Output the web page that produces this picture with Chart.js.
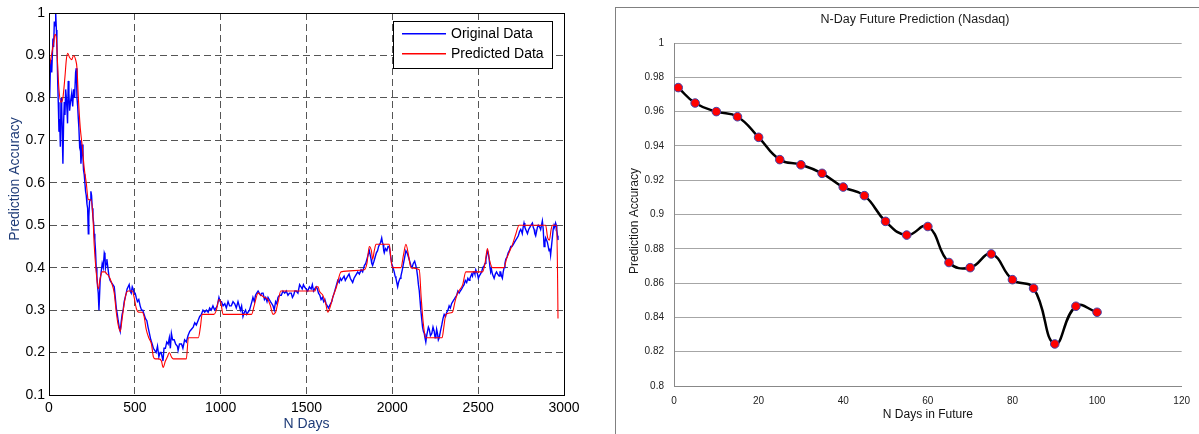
<!DOCTYPE html>
<html lang="en">
<head>
<meta charset="UTF-8">
<title>Prediction Accuracy</title>
<script src="https://cdn.jsdelivr.net/npm/chart.js"></script>
<style>
    body {
        margin: 0;
        background: #fff;
        width: 1199px;
        height: 434px;
        overflow: hidden;
        position: relative;
    }
    #leftChart { position: absolute; left: 0; top: 0; }
    #frame {
        position: absolute;
        left: 615px;
        top: 7px;
        width: 640px;
        height: 480px;
        border: 1px solid #808080;
    }
    #rightChart { position: absolute; left: 600px; top: 0; }
</style>
</head>
<body>
<canvas id="leftChart" width="600" height="434"></canvas>
<div id="frame"></div>
<canvas id="rightChart" width="599" height="434"></canvas>

<script>
// ---- left panel: original vs predicted accuracy over N days ----
const origDays = [
    0, 4, 8, 12, 16, 23, 27, 31, 35, 39,
    43, 46, 50, 54, 58, 62, 66, 70, 74, 78,
    81, 85, 89, 93, 97, 101, 105, 108, 112, 116,
    120, 125, 132, 138, 143, 149, 155, 159, 163, 167,
    171, 174, 178, 182, 186, 190, 194, 198, 201, 205,
    209, 213, 217, 221, 225, 229, 232, 236, 240, 244,
    248, 252, 256, 260, 263, 267, 271, 275, 279, 283,
    287, 291, 294, 298, 304, 310, 316, 322, 326, 329,
    333, 337, 343, 349, 356, 364, 372, 380, 386, 392,
    398, 403, 409, 415, 420, 426, 432, 438, 444, 450,
    455, 461, 467, 473, 479, 485, 490, 496, 502, 508,
    515, 523, 531, 539, 546, 554, 562, 570, 577, 585,
    593, 601, 608, 616, 624, 632, 640, 647, 653, 659,
    664, 670, 678, 686, 694, 701, 707, 713, 720, 729,
    738, 748, 752, 760, 772, 780, 790, 800, 810, 820,
    830, 840, 849, 858, 868, 878, 888, 897, 907, 917,
    927, 936, 945, 955, 965, 973, 980, 990, 997, 1005,
    1014, 1024, 1033, 1043, 1052, 1062, 1072, 1082, 1091, 1101,
    1108, 1115, 1122, 1130, 1138, 1145, 1152, 1160, 1168, 1175,
    1182, 1188, 1196, 1203, 1210, 1218, 1225, 1232, 1240, 1247,
    1255, 1262, 1270, 1276, 1283, 1290, 1298, 1305, 1312, 1320,
    1327, 1334, 1343, 1353, 1363, 1373, 1382, 1392, 1401, 1411,
    1418, 1425, 1432, 1440, 1450, 1460, 1468, 1475, 1482, 1488,
    1497, 1507, 1517, 1527, 1534, 1541, 1548, 1556, 1563, 1570,
    1578, 1585, 1593, 1600, 1607, 1614, 1621, 1628, 1634, 1640,
    1647, 1653, 1661, 1668, 1675, 1682, 1690, 1697, 1704, 1711,
    1719, 1726, 1733, 1740, 1748, 1755, 1762, 1769, 1777, 1784,
    1791, 1798, 1808, 1818, 1827, 1837, 1845, 1852, 1859, 1866,
    1871, 1876, 1880, 1885, 1893, 1900, 1907, 1914, 1920, 1926,
    1932, 1938, 1942, 1946, 1950, 1953, 1960, 1968, 1975, 1982,
    1989, 1996, 2004, 2011, 2016, 2021, 2026, 2031, 2036, 2040,
    2045, 2050, 2058, 2065, 2072, 2079, 2086, 2094, 2101, 2108,
    2115, 2122, 2130, 2137, 2142, 2147, 2152, 2157, 2162, 2166,
    2171, 2176, 2181, 2186, 2190, 2195, 2200, 2205, 2210, 2215,
    2222, 2230, 2237, 2244, 2249, 2254, 2258, 2263, 2268, 2273,
    2280, 2288, 2295, 2302, 2310, 2317, 2324, 2331, 2338, 2345,
    2352, 2360, 2367, 2375, 2382, 2389, 2396, 2404, 2411, 2418,
    2425, 2433, 2440, 2447, 2452, 2457, 2462, 2467, 2472, 2477,
    2481, 2486, 2491, 2496, 2501, 2506, 2513, 2520, 2527, 2535,
    2540, 2545, 2550, 2554, 2559, 2564, 2569, 2573, 2578, 2583,
    2588, 2593, 2600, 2607, 2614, 2622, 2627, 2631, 2636, 2641,
    2646, 2651, 2656, 2661, 2668, 2675, 2682, 2690, 2697, 2705,
    2712, 2719, 2727, 2734, 2741, 2748, 2753, 2757, 2762, 2767,
    2772, 2777, 2782, 2787, 2794, 2801, 2808, 2816, 2821, 2826,
    2830, 2835, 2840, 2845, 2850, 2854, 2859, 2864, 2869, 2874,
    2879, 2884, 2889, 2893, 2898, 2903, 2908, 2913, 2918, 2922,
    2927, 2932, 2937, 2942, 2946, 2951, 2955, 2958, 2962, 2965
];
const origValues = [
    .85, .80, .87, .89, .86, .94, .92, .98, .97, 1.0,
    .96, .93, .85, .79, .72, .75, .685, .80, .78, .70,
    .645, .74, .79, .76, .82, .80, .77, .74, .84, .81,
    .77, .79, .81, .78, .82, .80, .86, .87, .80, .78,
    .75, .73, .69, .70, .645, .67, .69, .66, .63, .62,
    .60, .58, .57, .55, .54, .48, .52, .555, .56, .58,
    .57, .54, .52, .505, .48, .465, .44, .40, .38, .355,
    .34, .30, .33, .37, .39, .41, .40, .435, .43, .40,
    .41, .42, .40, .38, .37, .365, .36, .355, .33, .305,
    .29, .275, .26, .25, .27, .29, .30, .32, .33, .34,
    .35, .355, .36, .345, .34, .355, .35, .34, .34, .33,
    .32, .325, .31, .30, .30, .29, .28, .275, .26, .245,
    .23, .22, .21, .205, .20, .215, .19, .20, .20, .19,
    .18, .21, .21, .225, .22, .235, .21, .245, .23, .23,
    .22, .215, .205, .22, .22, .21, .23, .225, .24, .25,
    .255, .26, .27, .265, .275, .285, .29, .30, .295, .30,
    .295, .305, .30, .31, .30, .305, .31, .33, .32, .32,
    .31, .315, .305, .32, .31, .31, .32, .315, .305, .32,
    .31, .30, .31, .285, .295, .30, .29, .295, .30, .31,
    .32, .33, .32, .335, .34, .345, .34, .335, .34, .34,
    .325, .33, .32, .33, .325, .32, .315, .31, .30, .32,
    .315, .33, .335, .335, .345, .34, .345, .335, .34, .34,
    .33, .335, .345, .345, .34, .36, .355, .35, .36, .355,
    .35, .345, .355, .35, .36, .345, .35, .355, .35, .34,
    .335, .325, .33, .32, .325, .315, .31, .305, .31, .315,
    .32, .33, .34, .35, .36, .37, .365, .375, .37, .375,
    .38, .37, .375, .38, .385, .375, .37, .365, .375, .38,
    .385, .39, .385, .395, .39, .405, .41, .42, .43, .44,
    .43, .42, .41, .405, .415, .425, .435, .44, .45, .455,
    .46, .47, .46, .455, .44, .435, .445, .44, .45, .45,
    .43, .41, .40, .39, .38, .375, .365, .355, .365, .37,
    .375, .38, .395, .41, .425, .44, .435, .425, .415, .405,
    .40, .41, .415, .405, .395, .38, .36, .345, .32, .30,
    .28, .26, .25, .245, .235, .225, .24, .25, .26, .255,
    .24, .245, .26, .25, .235, .24, .255, .245, .23, .235,
    .25, .265, .28, .29, .285, .295, .30, .31, .305, .315,
    .32, .325, .33, .335, .345, .34, .345, .35, .355, .36,
    .37, .365, .375, .37, .375, .38, .385, .38, .39, .39,
    .385, .395, .39, .385, .375, .38, .385, .39, .40, .405,
    .41, .42, .43, .44, .435, .42, .40, .39, .395, .385,
    .38, .375, .385, .39, .385, .38, .39, .39, .38, .375,
    .39, .40, .41, .42, .425, .435, .44, .45, .45, .455,
    .46, .465, .47, .475, .485, .49, .485, .48, .495, .505,
    .495, .49, .485, .48, .49, .495, .50, .505, .495, .49,
    .48, .475, .485, .495, .50, .50, .495, .49, .50, .51,
    .49, .45, .46, .47, .465, .46, .45, .44, .445, .43,
    .45, .47, .49, .50, .495, .505, .50, .49, .475, .465
];

const predDays = [
    0, 12, 27, 35, 43, 50, 58, 70, 81, 93,
    101, 109, 120, 132, 143, 155, 163, 171, 182, 194,
    205, 217, 229, 244, 256, 263, 275, 287, 298, 310,
    326, 337, 349, 364, 380, 392, 403, 415, 426, 438,
    450, 461, 473, 485, 496, 508, 523, 543, 554, 566,
    581, 597, 608, 620, 640, 655, 665, 678, 690, 701,
    713, 724, 800, 812, 870, 882, 892, 960, 975, 990,
    1000, 1014, 1180, 1195, 1218, 1235, 1255, 1275, 1290, 1305,
    1320, 1335, 1350, 1550, 1556, 1568, 1575, 1595, 1612, 1624,
    1640, 1653, 1675, 1701, 1837, 1852, 1866, 1878, 1885, 1895,
    1905, 1982, 1992, 2001, 2050, 2065, 2079, 2094, 2108, 2157,
    2168, 2180, 2195, 2290, 2300, 2312, 2350, 2365, 2380, 2410,
    2428, 2525, 2540, 2554, 2565, 2583, 2650, 2665, 2700, 2720,
    2738, 2893, 2905, 2915, 2925, 2932, 2957, 2962, 2965
];
const predValues = [
    .87, .895, .93, .95, .94, .88, .82, .79, .80, .85,
    .89, .905, .895, .89, .90, .89, .87, .80, .73, .685,
    .635, .60, .56, .56, .52, .455, .39, .35, .375, .39,
    .39, .385, .38, .365, .34, .295, .265, .25, .28, .315,
    .34, .345, .345, .345, .33, .305, .295, .295, .285, .255,
    .235, .22, .19, .185, .185, .18, .165, .18, .19, .20,
    .19, .185, .185, .235, .235, .26, .29, .29, .30, .325,
    .32, .29, .29, .31, .34, .335, .33, .325, .31, .29,
    .295, .32, .345, .345, .355, .355, .345, .335, .315, .295,
    .31, .33, .355, .39, .395, .41, .45, .44, .42, .44,
    .455, .455, .42, .40, .40, .43, .455, .43, .40, .395,
    .33, .27, .235, .235, .26, .29, .295, .32, .34, .36,
    .39, .39, .41, .445, .42, .40, .40, .42, .455, .48,
    .50, .50, .47, .465, .49, .50, .50, .40, .28
];

const leftXTicks = [0, 500, 1000, 1500, 2000, 2500, 3000];
const leftYTicks = [0.1, 0.2, 0.3, 0.4, 0.5, 0.6, 0.7, 0.8, 0.9, 1];

// ---- right panel: N-day future prediction (Nasdaq) ----
const futureDays = [1, 5, 10, 15, 20, 25, 30, 35, 40, 45, 50, 55, 60, 65, 70, 75, 80, 85, 90, 95, 100];
const futureAccuracy = [0.974, 0.965, 0.960, 0.957, 0.945, 0.932, 0.929, 0.924, 0.916, 0.911, 0.896,
                        0.888, 0.893, 0.872, 0.869, 0.877, 0.862, 0.857, 0.8245, 0.8465, 0.843];
const rightXTicks = [0, 20, 40, 60, 80, 100, 120];
const rightYTicks = [0.8, 0.82, 0.84, 0.86, 0.88, 0.9, 0.92, 0.94, 0.96, 0.98, 1];

const FONT = '"Liberation Sans", Arial, sans-serif';
const AXIS_BLUE = '#1f3c78';
Chart.defaults.font.family = FONT;

const fmt = v => String(+v.toFixed(2));
const toPoints = (xs, ys) => xs.map((x, i) => ({ x: x, y: ys[i] }));

// box, legend and y label drawn the MATLAB way
const leftDecor = {
    id: 'leftDecor',
    afterDraw(chart) {
        const { ctx, chartArea: a } = chart;
        ctx.save();
        ctx.setLineDash([]);
        ctx.strokeStyle = '#000';
        ctx.lineWidth = 1;
        ctx.strokeRect(Math.round(a.left) + 0.5, Math.round(a.top) + 0.5,
                       Math.round(a.right - a.left), Math.round(a.bottom - a.top));

        // legend
        ctx.fillStyle = '#fff';
        ctx.fillRect(393.5, 21.5, 159, 47);
        ctx.strokeRect(393.5, 21.5, 159, 47);
        ctx.fillStyle = '#0000ff';
        ctx.fillRect(402, 33, 44, 1.5);
        ctx.fillStyle = '#ff0000';
        ctx.fillRect(402, 53, 44, 1.5);
        ctx.fillStyle = '#000';
        ctx.font = '14px ' + FONT;
        ctx.textBaseline = 'middle';
        ctx.textAlign = 'left';
        ctx.fillText('Original Data', 451, 34);
        ctx.fillText('Predicted Data', 451, 54);

        // y axis title
        ctx.translate(15, 179);
        ctx.rotate(-Math.PI / 2);
        ctx.textAlign = 'center';
        ctx.fillStyle = AXIS_BLUE;
        ctx.fillText('Prediction Accuracy', 0, 0);
        ctx.restore();
    }
};

new Chart(document.getElementById('leftChart'), {
    type: 'line',
    data: {
        datasets: [{
            label: 'Original Data',
            data: toPoints(origDays, origValues),
            borderColor: '#0000ff',
            borderWidth: 1.4,
            pointRadius: 0,
            tension: 0,
            order: 2
        }, {
            label: 'Predicted Data',
            data: toPoints(predDays, predValues),
            borderColor: '#ff0000',
            borderWidth: 1.1,
            pointRadius: 0,
            cubicInterpolationMode: 'monotone',
            order: 1
        }]
    },
    options: {
        responsive: false,
        animation: false,
        events: [],
        layout: { padding: { left: 0, top: 13, right: 36, bottom: 0 } },
        plugins: { legend: { display: false }, tooltip: { enabled: false } },
        scales: {
            x: {
                type: 'linear', min: 0, max: 3000,
                afterBuildTicks: s => { s.ticks = leftXTicks.map(v => ({ value: v })); },
                afterFit: s => { s.height = 39; },
                grid: { color: '#555', lineWidth: 1, drawTicks: false },
                border: { color: '#000', width: 1, dash: [7, 4] },
                ticks: { color: '#000', font: { size: 14 }, padding: 5, maxRotation: 0, callback: v => fmt(v) },
                title: { display: true, text: 'N Days', color: AXIS_BLUE, font: { size: 14 }, padding: { top: 0, bottom: 1 } }
            },
            y: {
                min: 0.1, max: 1,
                afterBuildTicks: s => { s.ticks = leftYTicks.map(v => ({ value: v })); },
                afterFit: s => { s.width = 49; },
                grid: { color: '#555', lineWidth: 1, drawTicks: false },
                border: { color: '#000', width: 1, dash: [7, 4] },
                ticks: { color: '#000', font: { size: 14 }, padding: 4, callback: v => fmt(v) }
            }
        }
    },
    plugins: [leftDecor]
});

// Excel style title and y label
const rightDecor = {
    id: 'rightDecor',
    afterDraw(chart) {
        const ctx = chart.ctx;
        ctx.save();
        ctx.fillStyle = '#1a1a1a';
        ctx.textAlign = 'center';
        ctx.textBaseline = 'middle';
        ctx.font = '12.5px ' + FONT;
        ctx.fillText('N-Day Future Prediction (Nasdaq)', 315, 20);
        ctx.font = '12px ' + FONT;
        ctx.translate(35, 221);
        ctx.rotate(-Math.PI / 2);
        ctx.fillText('Prediction Accuracy', 0, 0);
        ctx.restore();
    }
};

new Chart(document.getElementById('rightChart'), {
    type: 'line',
    data: {
        datasets: [{
            label: 'Accuracy',
            data: toPoints(futureDays, futureAccuracy),
            borderColor: '#000',
            borderWidth: 2.5,
            tension: 0.45,
            pointRadius: 4.3,
            pointBackgroundColor: '#ff0000',
            pointBorderColor: '#4444aa',
            pointBorderWidth: 1
        }]
    },
    options: {
        responsive: false,
        animation: false,
        events: [],
        layout: { padding: { left: 0, top: 43, right: 13, bottom: 0 } },
        plugins: { legend: { display: false }, tooltip: { enabled: false } },
        scales: {
            x: {
                type: 'linear', min: 0, max: 120,
                afterBuildTicks: s => { s.ticks = rightXTicks.map(v => ({ value: v })); },
                afterFit: s => { s.height = 48; },
                grid: { display: false, drawTicks: false },
                border: { color: '#888', width: 1 },
                ticks: { color: '#222', font: { size: 10 }, padding: 9, maxRotation: 0, callback: v => fmt(v) },
                title: { display: true, text: 'N Days in Future', color: '#111', font: { size: 12 }, padding: { top: 0, bottom: 12 } }
            },
            y: {
                min: 0.8, max: 1,
                afterBuildTicks: s => { s.ticks = rightYTicks.map(v => ({ value: v })); },
                afterFit: s => { s.width = 74; },
                grid: { color: '#a6a6a6', lineWidth: 1, drawTicks: false },
                border: { color: '#888', width: 1 },
                ticks: { color: '#222', font: { size: 10 }, padding: 10, callback: v => fmt(v) }
            }
        }
    },
    plugins: [rightDecor]
});
</script>
</body>
</html>
